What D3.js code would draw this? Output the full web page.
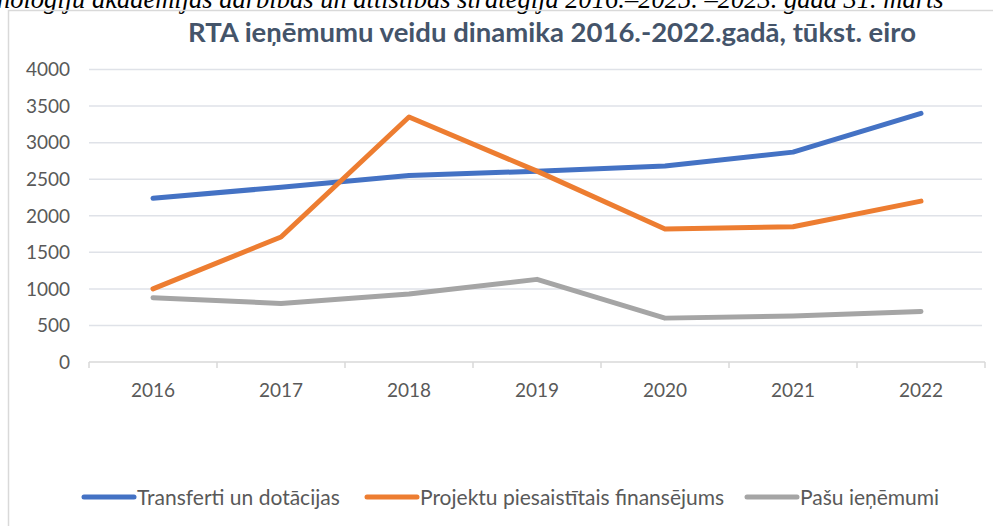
<!DOCTYPE html>
<html>
<head>
<meta charset="utf-8">
<script src="https://cdn.jsdelivr.net/npm/d3@7"></script>
<style>
  html, body { margin: 0; padding: 0; background: #fff; }
  svg { display: block; }
  .tick-label { font-family: Lato, "Open Sans", sans-serif; font-size: 19px; fill: #595959; }
  .legend-label { font-family: Lato, "Open Sans", sans-serif; font-size: 21px; fill: #595959; }
</style>
</head>
<body>
<div id="chart"></div>
<script>
const years = ["2016", "2017", "2018", "2019", "2020", "2021", "2022"];
const transferti = [2240, 2390, 2550, 2610, 2680, 2870, 3400];
const projektu = [1000, 1710, 3350, 2610, 1820, 1850, 2200];
const pasu = [880, 800, 930, 1130, 600, 630, 690];
const yTicks = [0, 500, 1000, 1500, 2000, 2500, 3000, 3500, 4000];

const seriesNames = ["Transferti un dotācijas", "Projektu piesaistītais finansējums", "Pašu ieņēmumi"];
const seriesValues = [transferti, projektu, pasu];
const colors = ["#4472c4", "#ed7d31", "#a5a5a5"];

const W = 993, H = 526;
const plot = { left: 89, right: 985, top: 69.5, bottom: 362 };

const svg = d3.select("#chart")
    .append("svg")
    .attr("width", W)
    .attr("height", H);

// ──── Source caption (clipped at top, as in the source) ────
svg.append("text")
    .attr("x", -3)
    .attr("y", 8)
    .attr("font-family", "'Liberation Serif', 'DejaVu Serif', serif")
    .attr("font-style", "italic")
    .attr("font-size", 26.5)
    .attr("fill", "#000")
    .text("nologiju akadēmijas darbības un attīstības stratēģija 2016.–2025. –2023. gada 31. marts");

// Chart frame
svg.append("path")
    .attr("d", `M8.5,${H} V10.5 H${W}`)
    .attr("fill", "none")
    .attr("stroke", "#d9d9d9")
    .attr("stroke-width", 1.5);

// ──── Scales ────
const xBand = d3.scaleBand()
    .domain(years)
    .range([plot.left, plot.right])
    .padding(0);

const xCenter = d => xBand(d) + xBand.bandwidth() / 2;

const yScale = d3.scaleLinear()
    .domain([0, 4000])
    .range([plot.bottom, plot.top]);

// Grid lines
svg.append("g")
    .selectAll("line")
    .data(yTicks.filter(t => t > 0))
    .join("line")
    .attr("x1", plot.left)
    .attr("x2", plot.right - 3)
    .attr("y1", d => yScale(d))
    .attr("y2", d => yScale(d))
    .attr("stroke", "#dfe2e8")
    .attr("stroke-width", 1.5);

// Y labels
svg.append("g")
    .selectAll("text")
    .data(yTicks)
    .join("text")
    .attr("class", "tick-label")
    .attr("x", 70)
    .attr("y", d => yScale(d))
    .attr("dy", "0.36em")
    .attr("text-anchor", "end")
    .text(d => d);

// X axis
const xAxis = svg.append("g")
    .attr("transform", `translate(0, ${plot.bottom})`)
    .call(d3.axisBottom(xBand).tickSize(0).tickPadding(0));
xAxis.select(".domain").remove();
xAxis.selectAll("text").remove();

xAxis.append("line")
    .attr("x1", plot.left)
    .attr("x2", plot.right)
    .attr("stroke", "#d9d9d9")
    .attr("stroke-width", 1.5);

xAxis.selectAll("line.boundary")
    .data(years.map(y => xBand(y)).concat([plot.right]))
    .join("line")
    .attr("class", "boundary")
    .attr("x1", d => d)
    .attr("x2", d => d)
    .attr("y1", 0)
    .attr("y2", 6)
    .attr("stroke", "#d9d9d9")
    .attr("stroke-width", 1.5);

svg.append("g")
    .selectAll("text")
    .data(years)
    .join("text")
    .attr("class", "tick-label")
    .attr("x", d => xCenter(d))
    .attr("y", 390)
    .attr("dy", "0.36em")
    .attr("text-anchor", "middle")
    .text(d => d);

// ──── Lines ────
const line = d3.line()
    .x((d, i) => xCenter(years[i]))
    .y(d => yScale(d));

svg.append("g")
    .selectAll("path")
    .data(seriesValues)
    .join("path")
    .attr("d", d => line(d))
    .attr("fill", "none")
    .attr("stroke", (d, i) => colors[i])
    .attr("stroke-width", 5)
    .attr("stroke-linecap", "round")
    .attr("stroke-linejoin", "round");

// ──── Title ────
svg.append("text")
    .attr("x", 552)
    .attr("y", 42)
    .attr("text-anchor", "middle")
    .attr("font-family", "Lato, 'Open Sans', sans-serif")
    .attr("font-weight", "bold")
    .attr("font-size", 27.5)
    .attr("fill", "#44546a")
    .text("RTA ieņēmumu veidu dinamika 2016.-2022.gadā, tūkst. eiro");

// ──── Legend ────
const legendX = [84, 367, 747];
const legend = svg.append("g")
    .selectAll("g")
    .data(seriesNames)
    .join("g")
    .attr("transform", (d, i) => `translate(${legendX[i]}, 497)`);

legend.append("line")
    .attr("x1", 0)
    .attr("x2", 50)
    .attr("stroke", (d, i) => colors[i])
    .attr("stroke-width", 5)
    .attr("stroke-linecap", "round");

legend.append("text")
    .attr("class", "legend-label")
    .attr("x", 53)
    .attr("dy", "0.36em")
    .text(d => d);
</script>
</body>
</html>
